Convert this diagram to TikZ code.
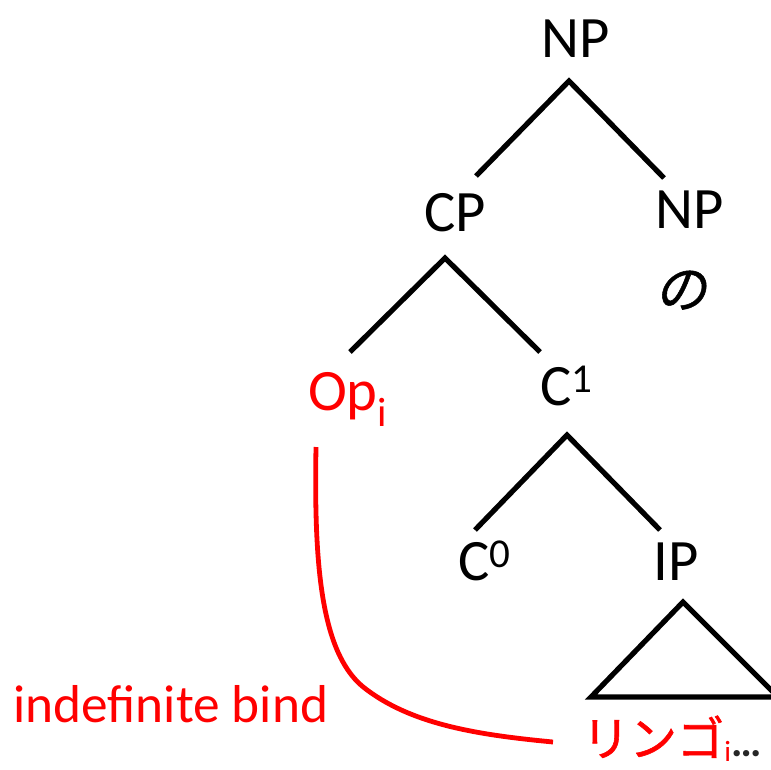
\documentclass[tikz,border=0pt]{standalone}
\usepackage{fontspec}
\setmainfont{Carlito}
\newfontfamily\jpfont[FakeBold=1.2]{Noto Sans CJK JP}
\newfontfamily\jpslant[FakeSlant=0.2,FakeBold=1]{Noto Sans CJK JP}
\begin{document}
\begin{tikzpicture}[x=0.75pt,y=-0.75pt,
  lbl/.style={anchor=base,inner sep=0pt,font=\fontsize{44}{48}\selectfont},
  redlbl/.style={anchor=base,inner sep=0pt,text=red},
  branch/.style={line width=3.9pt},
  bindline/.style={red,line width=3.6pt}]
\useasboundingbox (0,0) rectangle (771,769);
% labels
\node[lbl] (np1) at (576,57) {NP};
\node[lbl] (cp) at (455,231) {CP};
\node[lbl] (np2) at (690,228) {NP};
\node[anchor=base,inner sep=0pt,font=\jpslant\fontsize{39}{40}\selectfont] (no) at (681,308) {の};
\node[lbl,text=red] (op) at (348,410) {Op\textsubscript{i}};
\node[lbl] (c1) at (567,405) {C\textsuperscript{1}};
\node[lbl] (c0) at (485,580) {C\textsuperscript{0}};
\node[lbl] (ip) at (676,580) {IP};
\node[redlbl,anchor=base west,font=\jpfont\fontsize{35.5}{38}\selectfont] (ringo) at (582,756) {リンゴ{\normalfont\fontsize{22}{22}\selectfont\raisebox{-4pt}{i}}{\normalfont\color{black!85}\fontsize{32}{32}\selectfont\textbf{\ldots}}};
\node[redlbl,anchor=base west,font=\fontsize{40}{44}\selectfont] (bind) at (13,722) {indefinite bind};
% branch points
\coordinate (a1) at (569,81);
\coordinate (a1l) at (476,176);
\coordinate (a1r) at (664,178);
\coordinate (a2) at (445,258);
\coordinate (a2l) at (350,352);
\coordinate (a2r) at (540,352);
\coordinate (a3) at (567,435);
\coordinate (a3l) at (475,530);
\coordinate (a3r) at (660,530);
\coordinate (t1) at (683,602);
\coordinate (t2) at (591,697);
\coordinate (t3) at (778,697);
\draw[branch] (a1l) -- (a1) -- (a1r);
\draw[branch] (a2l) -- (a2) -- (a2r);
\draw[branch] (a3l) -- (a3) -- (a3r);
\draw[branch,line join=miter] (t2) -- (t1) -- (t3) -- cycle;
% binding curve
\coordinate (b0) at (316,447);
\coordinate (b1) at (553,742);
\draw[bindline] (b0) .. controls (314,560) and (320,650) .. (362,686) .. controls (410,725) and (480,735) .. (b1);
\end{tikzpicture}
\end{document}
